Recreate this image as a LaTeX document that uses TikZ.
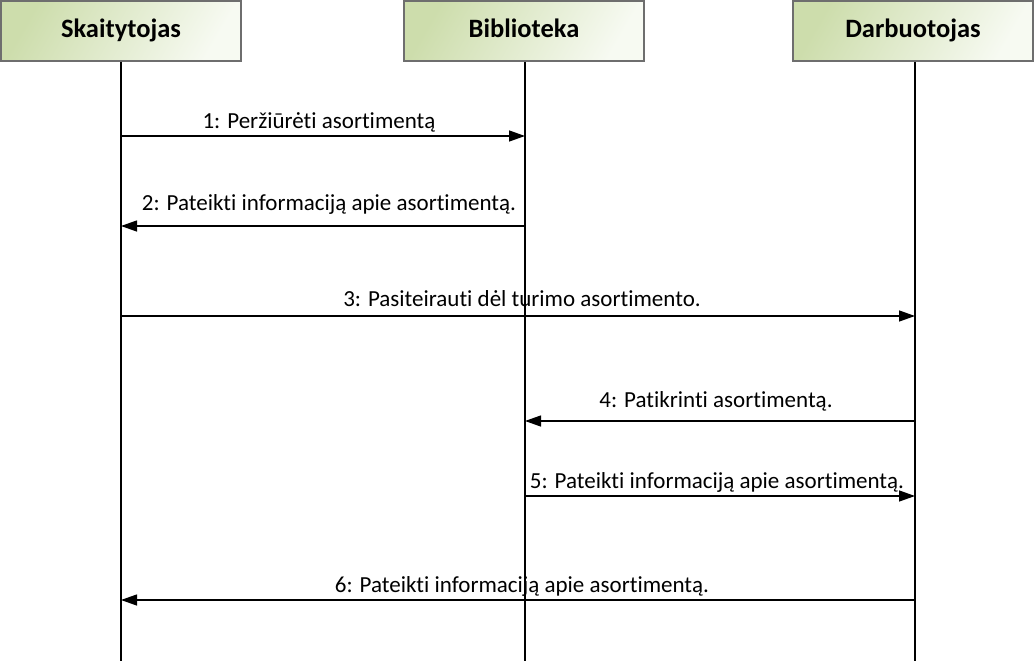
\documentclass[tikz,border=0pt]{standalone}
\usepackage{fontspec}
\setmainfont{Carlito}[Ligatures=NoCommon]
\usetikzlibrary{arrows.meta}
\definecolor{hdrA}{RGB}{205,221,172}
\definecolor{hdrB}{RGB}{247,250,242}
\definecolor{hdrLine}{RGB}{110,110,110}
\begin{document}
\begin{tikzpicture}[x=1pt,y=-1pt,
  hdr/.style={draw=hdrLine, line width=1.5pt, minimum width=240pt, minimum height=60pt,
    inner sep=0pt, text height=19pt, text depth=5pt,
    left color=hdrA, right color=hdrB, shading angle=60,
    font=\fontsize{26.5}{30}\selectfont\bfseries},
  life/.style={line width=1.3pt, black},
  msg/.style={line width=1.3pt, -{Triangle[length=16pt,width=11pt]}},
  lbl/.style={anchor=base, inner sep=0pt, font=\fontsize{23}{27}\selectfont}]
\useasboundingbox (0,0) rectangle (1036,661);
\fill[white] (0,0) rectangle (1036,661);
% headers
\node[hdr] (sk) at (121,31) {Skaitytojas};
\node[hdr] (bi) at (524,31) {Biblioteka};
\node[hdr] (da) at (913,31) {Darbuotojas};
% lifeline ends
\coordinate (skE) at (121,661);
\coordinate (biE) at (525,661);
\coordinate (daE) at (915,661);
\draw[life] (sk.south) -- (skE);
\draw[life] (bi.south -| biE) -- (biE);
\draw[life] (da.south -| daE) -- (daE);
% message points
\coordinate (s1) at (121,136); \coordinate (b1) at (525,136);
\coordinate (s2) at (121,226); \coordinate (b2) at (525,226);
\coordinate (s3) at (121,316); \coordinate (d3) at (915,316);
\coordinate (b4) at (525,421); \coordinate (d4) at (915,421);
\coordinate (b5) at (525,496); \coordinate (d5) at (915,496);
\coordinate (s6) at (121,600); \coordinate (d6) at (915,600);
\draw[msg] (s1) -- (b1);
\draw[msg] (b2) -- (s2);
\draw[msg] (s3) -- (d3);
\draw[msg] (d4) -- (b4);
\draw[msg] (b5) -- (d5);
\draw[msg] (d6) -- (s6);
% labels
\node[lbl] (l1) at (319,128) {1: Peržiūrėti asortimentą};
\node[lbl] (l2) at (329,210) {2: Pateikti informaciją apie asortimentą.};
\node[lbl] (l3) at (522,306) {3: Pasiteirauti dėl turimo asortimento.};
\node[lbl] (l4) at (716,407) {4: Patikrinti asortimentą.};
\node[lbl] (l5) at (717,488) {5: Pateikti informaciją apie asortimentą.};
\node[lbl] (l6) at (522,592) {6: Pateikti informaciją apie asortimentą.};
\end{tikzpicture}
\end{document}
